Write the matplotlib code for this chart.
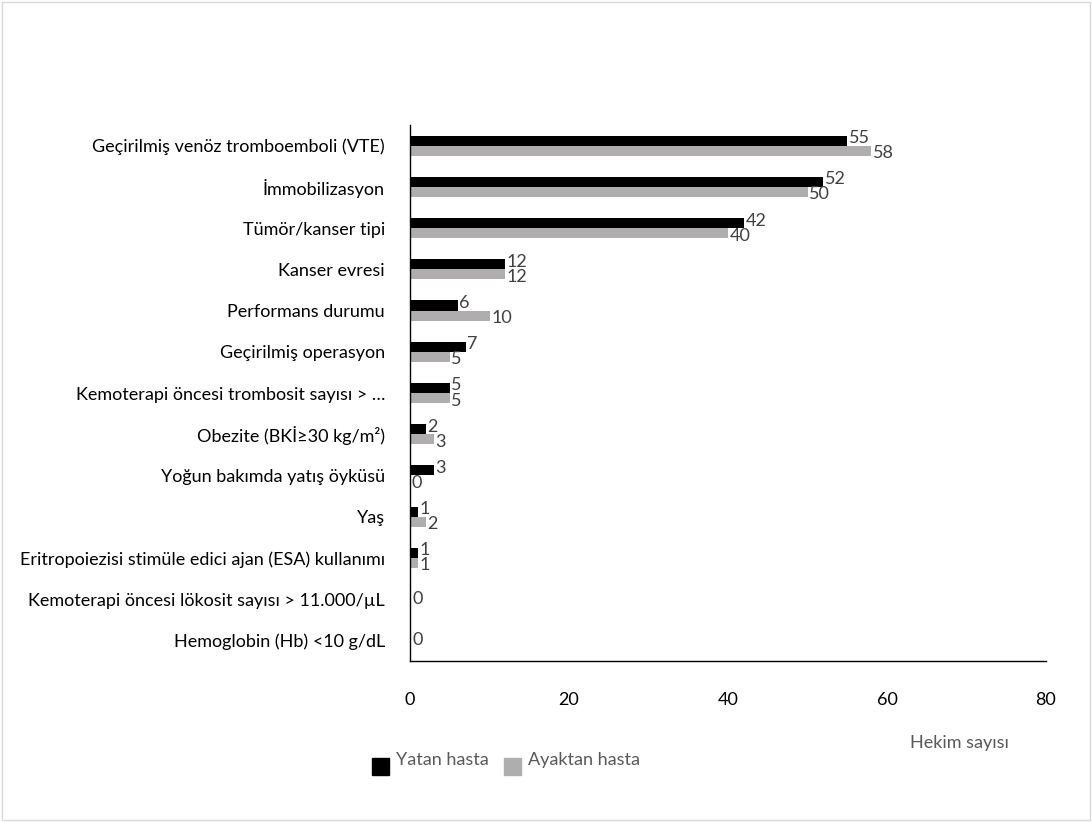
import matplotlib
matplotlib.use("Agg")
import matplotlib.pyplot as plt
from matplotlib.patches import Rectangle

categories = [
    "Geçirilmiş venöz tromboemboli (VTE)",
    "İmmobilizasyon",
    "Tümör/kanser tipi",
    "Kanser evresi",
    "Performans durumu",
    "Geçirilmiş operasyon",
    "Kemoterapi öncesi trombosit sayısı > …",
    "Obezite (BKİ≥30 kg/m²)",
    "Yoğun bakımda yatış öyküsü",
    "Yaş",
    "Eritropoiezisi stimüle edici ajan (ESA) kullanımı",
    "Kemoterapi öncesi lökosit sayısı > 11.000/µL",
    "Hemoglobin (Hb) <10 g/dL",
]
yatan = [55, 52, 42, 12, 6, 7, 5, 2, 3, 1, 1, 0, 0]
ayaktan = [58, 50, 40, 12, 10, 5, 5, 3, 0, 2, 1, 0, 0]
series_names = ["Yatan hasta", "Ayaktan hasta"]
xticks = [0, 20, 40, 60, 80]
xlabel = "Hekim sayısı"

plt.rcParams['font.family'] = ['Lato', 'DejaVu Sans']
TXT = '#404040'
GRAY = '#AFADAD'
FS = 13

fig = plt.figure(figsize=(10.92, 8.22), dpi=100)
fig.patches.append(Rectangle((0.002, 0.002), 0.996, 0.996, transform=fig.transFigure,
                             fill=False, edgecolor='#D9D9D9', linewidth=1))
W, H = 1092, 822
left, right, top, bottom = 410, 1046, 125, 661
ax = fig.add_axes([left / W, 1 - bottom / H, (right - left) / W, (bottom - top) / H])

n = len(categories)
ys = list(range(n))
bh = 0.245
colors = ['black', GRAY]
ax.barh([y - bh / 2 for y in ys], yatan, height=bh, color=colors[0])
ax.barh([y + bh / 2 for y in ys], ayaktan, height=bh, color=colors[1])

for y, a, b in zip(ys, yatan, ayaktan):
    if a == 0 and b == 0:
        ax.text(0.3, y, "0", va='center', ha='left', fontsize=FS, color=TXT)
        continue
    ax.text(a + 0.2, y - bh / 2 - 0.06, str(a), va='center', ha='left', fontsize=FS, color=TXT)
    ax.text(b + 0.2, y + bh / 2 + 0.06, str(b), va='center', ha='left', fontsize=FS, color=TXT)

ax.set_ylim(n - 0.5, -0.5)
ax.set_xlim(0, 80)
ax.set_yticks(ys)
ax.set_yticklabels(categories, fontsize=FS, color='black')
ax.set_xticks(xticks)
ax.set_xticklabels([str(t) for t in xticks], fontsize=FS, color='black')
ax.tick_params(axis='y', length=0, pad=18)
ax.tick_params(axis='x', length=0, pad=22)
for s in ['top', 'right']:
    ax.spines[s].set_visible(False)
for s in ['left', 'bottom']:
    ax.spines[s].set_color('black')
    ax.spines[s].set_linewidth(1)

fig.text(910 / W, 1 - 743 / H, xlabel, ha='left', va='center', fontsize=FS, color='#595959')

# legend (Excel-style: square swatches sitting slightly below text centre)
leg_x = [372, 504]
for name, col, x0 in zip(series_names, colors, leg_x):
    fig.patches.append(Rectangle((x0 / W, 1 - 775 / H), 17 / W, 17 / H,
                                 transform=fig.transFigure, color=col))
    fig.text((x0 + 24) / W, 1 - 760 / H, name, ha='left', va='center',
             fontsize=FS, color='#595959')

fig.savefig("out.png", dpi=100)
